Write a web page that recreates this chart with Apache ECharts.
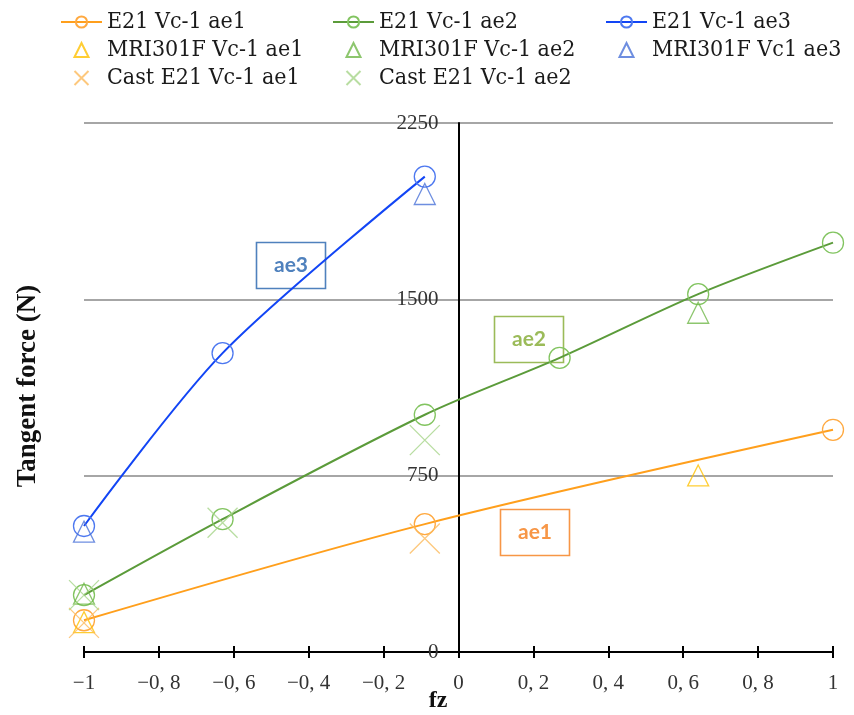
<!DOCTYPE html>
<html>
<head>
<meta charset="utf-8">
<script src="https://cdn.jsdelivr.net/npm/echarts@6/dist/echarts.min.js"></script>
<style>
  html, body { margin: 0; padding: 0; background: #ffffff; }
  #chart { width: 854px; height: 715px; }
</style>
</head>
<body>
<div id="chart"></div>
<script>
// Tangent force (N) against fz for the E21 / MRI301F / cast E21 tests
const e21Ae1Fz = [-1, -0.09, 1];
const e21Ae1Force = [135, 544, 945];

const e21Ae2Fz = [-1, -0.63, -0.09, 0.27, 0.64, 1];
const e21Ae2Force = [242, 565, 1009, 1251, 1522, 1741];

const e21Ae3Fz = [-1, -0.63, -0.09];
const e21Ae3Force = [536, 1271, 2022];

const mriAe1Fz = [-1, 0.64];
const mriAe1Force = [127, 751];

const mriAe2Fz = [-1, 0.64];
const mriAe2Force = [248, 1443];

const mriAe3Fz = [-1, -0.09];
const mriAe3Force = [512, 1948];

const castAe1Fz = [-1, -0.09];
const castAe1Force = [124, 483];

const castAe2Fz = [-1, -0.63, -0.09];
const castAe2Force = [242, 550, 901];

const xTickLabels = ['\u22121', '\u22120, 8', '\u22120, 6', '\u22120, 4', '\u22120, 2', '0',
                     '0, 2', '0, 4', '0, 6', '0, 8', '1'];
const yTickLabels = ['0', '750', '1500', '2250'];

const seriesNames = [
  'E21 Vc-1 ae1', 'E21 Vc-1 ae2', 'E21 Vc-1 ae3',
  'MRI301F Vc-1 ae1', 'MRI301F Vc-1 ae2', 'MRI301F Vc1 ae3',
  'Cast E21 Vc-1 ae1', 'Cast E21 Vc-1 ae2'
];

const noteLabels = ['ae3', 'ae2', 'ae1'];

const X_MIN = -1, X_MAX = 1, X_STEP = 0.2;
const Y_MIN = 0, Y_MAX = 2250, Y_STEP = 750;

const serif = "'Liberation Serif', 'DejaVu Serif', serif";
const legendFont = "'DejaVu Serif Condensed', 'Liberation Serif', serif";
const crossPath = 'path://M0,0L20,20M20,0L0,20';
const trianglePath = 'path://M10,0L20,20L0,20Z';

const pairs = (xs, ys) => xs.map((x, i) => [x, ys[i]]);

function lineSeries(name, xs, ys, lineColor, markColor) {
  return {
    name, type: 'line', data: pairs(xs, ys),
    smooth: 0.3,
    symbol: 'circle', symbolSize: 21,
    lineStyle: { color: lineColor, width: 2 },
    itemStyle: { color: 'transparent', borderColor: markColor, borderWidth: 1.3 },
    emphasis: { disabled: true },
    z: 3
  };
}

function markSeries(name, xs, ys, symbol, size, color) {
  return {
    name, type: 'scatter', data: pairs(xs, ys),
    symbol, symbolSize: size, symbolKeepAspect: true,
    itemStyle: { color: 'transparent', borderColor: color, borderWidth: 1.3 },
    emphasis: { disabled: true },
    z: 4
  };
}

const series = [
  lineSeries(seriesNames[0], e21Ae1Fz, e21Ae1Force, '#FF9F1C', '#FFA940'),
  lineSeries(seriesNames[1], e21Ae2Fz, e21Ae2Force, '#5B9B3A', '#82C460'),
  lineSeries(seriesNames[2], e21Ae3Fz, e21Ae3Force, '#1245F5', '#4D78F0'),
  markSeries(seriesNames[3], mriAe1Fz, mriAe1Force, trianglePath, 21, '#FFC000'),
  markSeries(seriesNames[4], mriAe2Fz, mriAe2Force, trianglePath, 21, '#70B84A'),
  markSeries(seriesNames[5], mriAe3Fz, mriAe3Force, trianglePath, 21, '#4A72D8'),
  markSeries(seriesNames[6], castAe1Fz, castAe1Force, crossPath, 30, '#FDBA5C'),
  markSeries(seriesNames[7], castAe2Fz, castAe2Force, crossPath, 30, '#A6D48A')
];

const legendText = { fontFamily: legendFont, fontSize: 23, color: '#1a1a1a', lineHeight: 24 };
function legendColumn(left, names) {
  return {
    orient: 'vertical', left, top: 10, padding: 0,
    itemWidth: 41, itemHeight: 14, itemGap: 4,
    selectedMode: false,
    textStyle: legendText,
    data: names
  };
}

// Framed labels naming each cutting depth
const noteBoxes = [
  { left: 254, top: 240, color: '#4F81BD' },
  { left: 492, top: 314, color: '#9BBB59' },
  { left: 498, top: 507, color: '#F79646' }
];

const graphic = noteBoxes.map((b, i) => ({
  type: 'group', left: b.left, top: b.top, z: 10,
  children: [
    { type: 'rect', shape: { x: 0, y: 0, width: 69, height: 46 },
      style: { fill: 'none', stroke: b.color, lineWidth: 1.6 } },
    { type: 'text', x: 34.5, y: 23,
      style: { text: noteLabels[i], fill: b.color, font: "bold 21px Lato, 'Open Sans', sans-serif",
               align: 'center', verticalAlign: 'middle' } }
  ]
}));

graphic.push({
  type: 'text', x: 28, y: 386, rotation: Math.PI / 2,
  style: { text: 'Tangent force (N)', fill: '#111', font: "bold 27px " + serif,
           align: 'center', verticalAlign: 'middle' }
});
graphic.push({
  type: 'text', x: 438, y: 701,
  style: { text: 'fz', fill: '#111', font: "bold 24px " + serif,
           align: 'center', verticalAlign: 'middle' }
});

const chart = echarts.init(document.getElementById('chart'), null, { renderer: 'canvas' });

const gridLeft = 84, gridRight = 21;
const plotWidth = 854 - gridLeft - gridRight;
// the vertical axis sits on fz = 0
const yAxisShift = plotWidth * (0 - X_MIN) / (X_MAX - X_MIN);

chart.setOption({
  animation: false,
  backgroundColor: '#ffffff',
  grid: { left: gridLeft, right: gridRight, top: 123, bottom: 63, containLabel: false },
  legend: [
    legendColumn(60, [seriesNames[0], seriesNames[3], seriesNames[6]]),
    legendColumn(332, [seriesNames[1], seriesNames[4], seriesNames[7]]),
    legendColumn(605, [seriesNames[2], seriesNames[5]])
  ],
  xAxis: [
    {
      type: 'value', min: X_MIN, max: X_MAX, interval: X_STEP, position: 'bottom',
      axisLine: { show: true, lineStyle: { color: '#000', width: 2 } },
      axisTick: { show: true, length: 6, lineStyle: { color: '#000', width: 2 } },
      axisLabel: {
        margin: 21, fontFamily: serif, fontSize: 21, color: '#333',
        formatter: v => xTickLabels[Math.round((v - X_MIN) / X_STEP)]
      },
      splitLine: { show: false }
    },
    {
      // inner half of the crossing tick marks
      type: 'value', min: X_MIN, max: X_MAX, interval: X_STEP, position: 'bottom',
      axisLine: { show: false },
      axisTick: { show: true, inside: true, length: 6, lineStyle: { color: '#000', width: 2 } },
      axisLabel: { show: false },
      splitLine: { show: false }
    }
  ],
  yAxis: {
    type: 'value', min: Y_MIN, max: Y_MAX, interval: Y_STEP,
    position: 'left', offset: -yAxisShift,
    axisLine: { show: true, onZero: false, lineStyle: { color: '#000', width: 2 } },
    axisTick: { show: false },
    axisLabel: {
      margin: 20, fontFamily: serif, fontSize: 21, color: '#333',
      formatter: v => yTickLabels[Math.round((v - Y_MIN) / Y_STEP)]
    },
    splitLine: { show: true, lineStyle: { color: '#A6A6A6', width: 2 } }
  },
  graphic,
  series
});
</script>
</body>
</html>
